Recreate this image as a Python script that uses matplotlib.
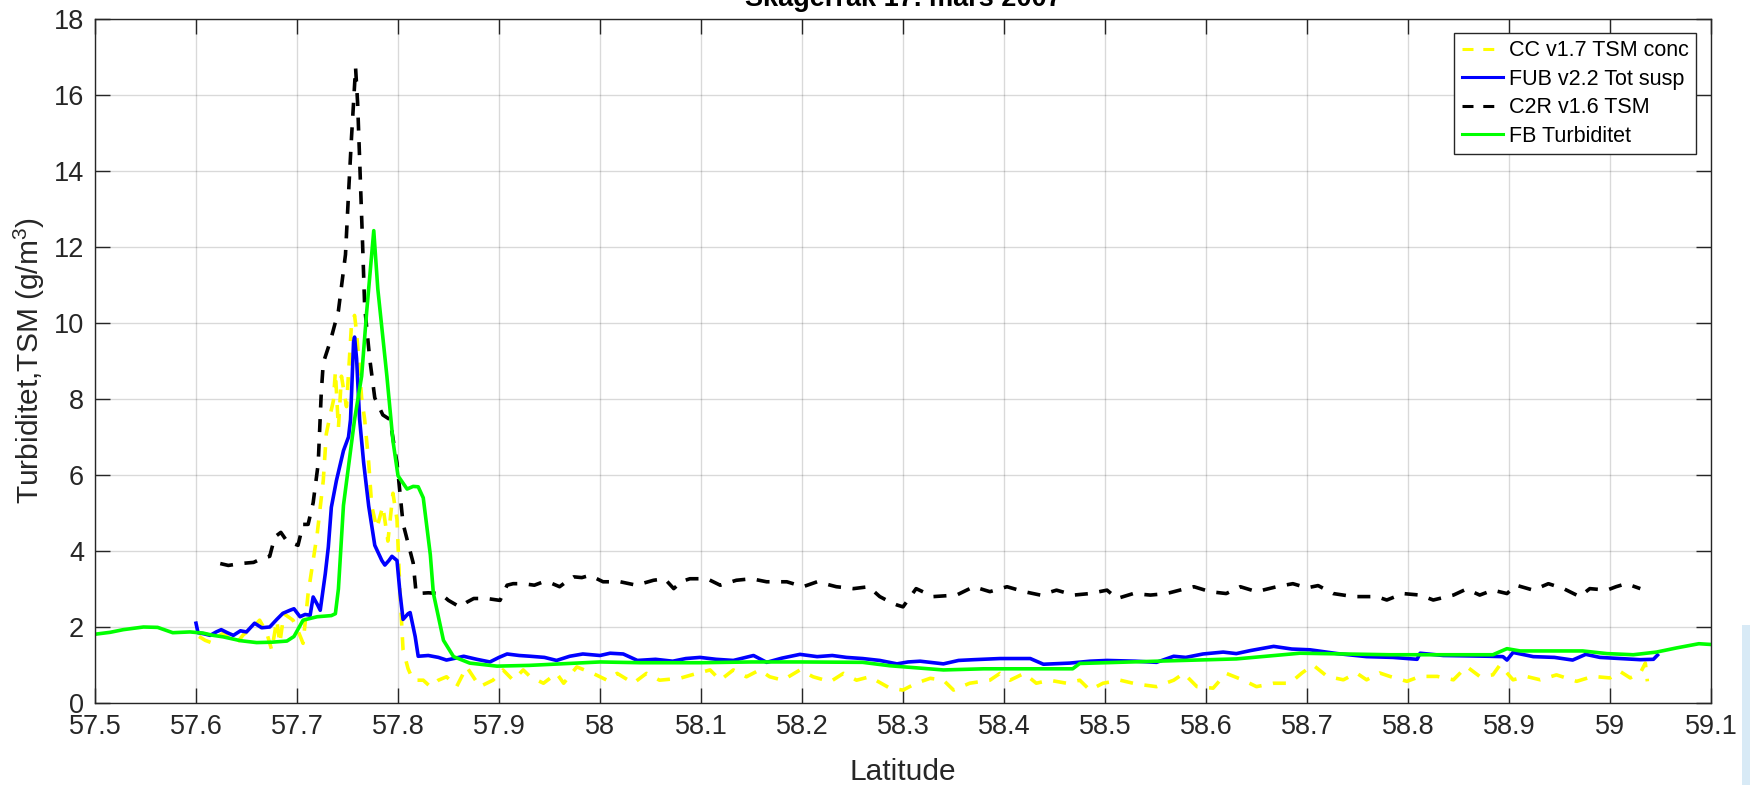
import matplotlib
matplotlib.use('Agg')
import matplotlib.pyplot as plt
from matplotlib.patches import Rectangle

plt.rcParams['font.family'] = ['Liberation Sans', 'DejaVu Sans']
plt.rcParams['mathtext.fontset'] = 'custom'
plt.rcParams['mathtext.rm'] = 'Liberation Sans'

# CC v1.7 TSM conc (yellow, dashed)
cc_lat = [57.603, 57.609, 57.617, 57.622, 57.627, 57.633, 57.640, 57.647, 57.655, 57.663,
          57.670, 57.675, 57.680, 57.683, 57.687, 57.696, 57.701, 57.706, 57.711, 57.715,
          57.720, 57.726, 57.729, 57.733, 57.736, 57.738, 57.741, 57.744, 57.749, 57.754,
          57.757, 57.759, 57.764, 57.767, 57.771, 57.774, 57.779, 57.785, 57.790, 57.795,
          57.799, 57.802, 57.805, 57.810, 57.815, 57.825, 57.832, 57.840, 57.848, 57.858,
          57.868, 57.881, 57.894, 57.904, 57.914, 57.924, 57.931, 57.944, 57.957, 57.964,
          57.977, 57.993, 58.007, 58.017, 58.033, 58.046, 58.059, 58.079, 58.096, 58.109,
          58.119, 58.132, 58.145, 58.158, 58.168, 58.181, 58.198, 58.211, 58.228, 58.241,
          58.254, 58.267, 58.287, 58.300, 58.313, 58.327, 58.340, 58.350, 58.366, 58.386,
          58.396, 58.406, 58.420, 58.432, 58.445, 58.462, 58.475, 58.485, 58.498, 58.515,
          58.531, 58.551, 58.568, 58.578, 58.591, 58.607, 58.620, 58.637, 58.650, 58.667,
          58.683, 58.695, 58.706, 58.720, 58.736, 58.749, 58.759, 58.772, 58.782, 58.799,
          58.812, 58.829, 58.845, 58.858, 58.871, 58.884, 58.891, 58.904, 58.917, 58.931,
          58.947, 58.967, 58.983, 59.000, 59.010, 59.020, 59.030, 59.035, 59.037]
cc_val = [1.75, 1.65, 1.57, 1.75, 1.84, 1.70, 1.57, 1.80, 1.95, 2.18,
          1.85, 1.39, 2.18, 1.57, 2.35, 2.18, 1.90, 1.57, 2.88, 3.58,
          4.45, 5.85, 7.08, 7.60, 7.95, 8.72, 7.23, 8.60, 7.80, 9.98,
          10.20, 9.75, 8.03, 7.46, 6.32, 5.18, 4.60, 5.18, 4.26, 5.52,
          4.83, 2.89, 1.40, 0.90, 0.60, 0.60, 0.43, 0.60, 0.69, 0.43,
          0.95, 0.43, 0.60, 0.87, 0.60, 0.87, 0.69, 0.52, 0.78, 0.52,
          0.95, 0.78, 0.60, 0.78, 0.52, 0.78, 0.60, 0.65, 0.78, 0.87,
          0.60, 0.87, 0.69, 0.87, 0.69, 0.60, 0.87, 0.69, 0.56, 0.78,
          0.60, 0.69, 0.39, 0.34, 0.52, 0.65, 0.60, 0.34, 0.52, 0.60,
          0.78, 0.60, 0.78, 0.52, 0.60, 0.52, 0.60, 0.34, 0.52, 0.60,
          0.50, 0.43, 0.60, 0.78, 0.43, 0.39, 0.78, 0.60, 0.43, 0.52,
          0.52, 0.79, 1.00, 0.70, 0.61, 0.79, 0.61, 0.79, 0.70, 0.57,
          0.70, 0.70, 0.61, 0.96, 0.70, 0.74, 1.00, 0.61, 0.70, 0.61,
          0.74, 0.57, 0.70, 0.66, 0.83, 0.66, 0.79, 1.05, 0.57]

# FUB v2.2 Tot susp (blue)
fub_lat = [57.600, 57.602, 57.608, 57.614, 57.620, 57.625, 57.631, 57.637, 57.644, 57.650,
           57.658, 57.665, 57.673, 57.680, 57.686, 57.693, 57.697, 57.703, 57.708, 57.713,
           57.716, 57.720, 57.723, 57.728, 57.731, 57.734, 57.739, 57.746, 57.751, 57.753,
           57.756, 57.757, 57.759, 57.762, 57.766, 57.771, 57.777, 57.784, 57.787, 57.791,
           57.794, 57.799, 57.802, 57.805, 57.810, 57.812, 57.817, 57.820, 57.830, 57.840,
           57.848, 57.857, 57.865, 57.878, 57.891, 57.900, 57.908, 57.920, 57.931, 57.945,
           57.957, 57.970, 57.983, 58.000, 58.010, 58.023, 58.037, 58.055, 58.072, 58.085,
           58.099, 58.115, 58.132, 58.152, 58.165, 58.180, 58.198, 58.215, 58.230, 58.244,
           58.260, 58.277, 58.294, 58.305, 58.317, 58.340, 58.355, 58.370, 58.396, 58.426,
           58.439, 58.465, 58.485, 58.502, 58.530, 58.551, 58.568, 58.580, 58.597, 58.617,
           58.630, 58.644, 58.667, 58.685, 58.703, 58.730, 58.759, 58.785, 58.809, 58.812,
           58.835, 58.858, 58.880, 58.894, 58.898, 58.904, 58.924, 58.945, 58.963, 58.976,
           58.990, 59.010, 59.030, 59.043, 59.047]
fub_val = [2.10, 1.85, 1.82, 1.78, 1.87, 1.93, 1.85, 1.78, 1.90, 1.87,
           2.10, 1.98, 2.00, 2.20, 2.36, 2.44, 2.48, 2.27, 2.33, 2.31,
           2.79, 2.60, 2.44, 3.40, 4.10, 5.15, 5.85, 6.64, 7.00, 7.46,
           9.50, 9.63, 9.06, 7.46, 6.32, 5.18, 4.15, 3.75, 3.63, 3.75,
           3.86, 3.75, 2.89, 2.20, 2.35, 2.38, 1.75, 1.23, 1.25, 1.20,
           1.13, 1.18, 1.23, 1.15, 1.08, 1.20, 1.29, 1.25, 1.23, 1.20,
           1.12, 1.23, 1.29, 1.25, 1.31, 1.29, 1.12, 1.15, 1.10, 1.17,
           1.20, 1.15, 1.12, 1.25, 1.07, 1.18, 1.28, 1.22, 1.25, 1.20,
           1.17, 1.12, 1.03, 1.08, 1.10, 1.03, 1.12, 1.14, 1.17, 1.17,
           1.02, 1.05, 1.10, 1.12, 1.10, 1.07, 1.23, 1.20, 1.29, 1.34,
           1.30, 1.38, 1.49, 1.42, 1.40, 1.30, 1.22, 1.20, 1.15, 1.31,
           1.25, 1.24, 1.23, 1.22, 1.13, 1.33, 1.22, 1.20, 1.13, 1.28,
           1.20, 1.17, 1.14, 1.15, 1.26]

# C2R v1.6 TSM (black, dashed)
c2r_lat = [57.624, 57.632, 57.644, 57.657, 57.665, 57.673, 57.678, 57.684, 57.690, 57.696,
           57.701, 57.706, 57.711, 57.716, 57.721, 57.724, 57.726, 57.733, 57.741, 57.748,
           57.751, 57.754, 57.756, 57.758, 57.760, 57.762, 57.765, 57.767, 57.772, 57.777,
           57.785, 57.792, 57.799, 57.805, 57.810, 57.815, 57.818, 57.830, 57.842, 57.850,
           57.861, 57.868, 57.875, 57.888, 57.901, 57.908, 57.914, 57.924, 57.935, 57.944,
           57.952, 57.960, 57.967, 57.974, 57.982, 57.990, 58.003, 58.020, 58.036, 58.053,
           58.064, 58.073, 58.081, 58.089, 58.106, 58.119, 58.135, 58.150, 58.165, 58.185,
           58.201, 58.215, 58.234, 58.251, 58.266, 58.277, 58.287, 58.294, 58.300, 58.313,
           58.330, 58.353, 58.370, 58.386, 58.403, 58.420, 58.436, 58.452, 58.469, 58.485,
           58.502, 58.512, 58.528, 58.545, 58.561, 58.574, 58.588, 58.604, 58.620, 58.634,
           58.650, 58.670, 58.686, 58.700, 58.711, 58.726, 58.746, 58.769, 58.779, 58.795,
           58.812, 58.825, 58.845, 58.858, 58.871, 58.884, 58.898, 58.907, 58.924, 58.939,
           58.954, 58.970, 58.980, 58.997, 59.006, 59.016, 59.030]
c2r_val = [3.67, 3.62, 3.67, 3.70, 3.80, 3.86, 4.37, 4.49, 4.26, 4.20,
           4.15, 4.70, 4.70, 5.27, 6.30, 8.15, 8.95, 9.52, 10.32, 11.80,
           13.40, 14.90, 15.80, 16.72, 15.80, 14.32, 12.03, 10.43, 9.06, 8.03,
           7.58, 7.46, 6.32, 4.72, 4.20, 3.69, 2.88, 2.90, 2.88, 2.70,
           2.53, 2.65, 2.75, 2.75, 2.70, 3.10, 3.14, 3.14, 3.10, 3.19,
           3.15, 3.06, 3.20, 3.32, 3.30, 3.36, 3.19, 3.19, 3.10, 3.23,
           3.27, 3.01, 3.20, 3.27, 3.27, 3.10, 3.23, 3.27, 3.19, 3.19,
           3.06, 3.19, 3.06, 3.01, 3.06, 2.80, 2.66, 2.58, 2.53, 3.01,
           2.80, 2.84, 3.06, 2.93, 3.06, 2.93, 2.84, 2.97, 2.84, 2.88,
           2.97, 2.75, 2.88, 2.84, 2.88, 2.97, 3.06, 2.93, 2.88, 3.06,
           2.93, 3.06, 3.14, 3.03, 3.09, 2.88, 2.80, 2.80, 2.71, 2.88,
           2.84, 2.71, 2.84, 3.00, 2.84, 2.97, 2.88, 3.10, 2.97, 3.14,
           3.01, 2.80, 3.01, 2.97, 3.06, 3.14, 3.01]

# FB Turbiditet (green)
fb_lat = [57.500, 57.515, 57.528, 57.548, 57.562, 57.577, 57.594, 57.607, 57.617, 57.627,
          57.644, 57.660, 57.675, 57.690, 57.697, 57.706, 57.720, 57.734, 57.738, 57.741,
          57.746, 57.757, 57.764, 57.769, 57.776, 57.780, 57.789, 57.795, 57.800, 57.809,
          57.815, 57.820, 57.825, 57.832, 57.835, 57.845, 57.855, 57.871, 57.898, 57.930,
          58.000, 58.040, 58.099, 58.150, 58.198, 58.260, 58.287, 58.340, 58.380, 58.468,
          58.475, 58.551, 58.630, 58.693, 58.782, 58.884, 58.898, 58.911, 58.973, 58.997,
          59.023, 59.046, 59.066, 59.088, 59.100]
fb_val = [1.81, 1.86, 1.93, 2.00, 1.99, 1.85, 1.87, 1.84, 1.78, 1.74,
          1.64, 1.59, 1.60, 1.63, 1.75, 2.18, 2.27, 2.30, 2.35, 3.00,
          5.20, 7.46, 8.60, 10.30, 12.43, 10.90, 8.60, 6.90, 5.98, 5.63,
          5.70, 5.69, 5.40, 3.90, 2.89, 1.65, 1.22, 1.05, 0.97, 0.99,
          1.08, 1.06, 1.06, 1.08, 1.08, 1.07, 0.98, 0.87, 0.90, 0.90,
          1.04, 1.10, 1.16, 1.31, 1.27, 1.27, 1.43, 1.37, 1.37, 1.30,
          1.27, 1.34, 1.45, 1.56, 1.54]

xticks = [57.5, 57.6, 57.7, 57.8, 57.9, 58.0, 58.1, 58.2, 58.3, 58.4, 58.5,
          58.6, 58.7, 58.8, 58.9, 59.0, 59.1]
yticks = [0, 2, 4, 6, 8, 10, 12, 14, 16, 18]

fig = plt.figure(figsize=(17.5, 7.85), dpi=100)
ax = fig.add_axes([95 / 1750, 82 / 785, 1616 / 1750, 684 / 785])

ax.plot(cc_lat, cc_val, color=(1, 1, 0), lw=2.6, dashes=(3.6, 3.2), label='CC v1.7 TSM conc')
ax.plot(fub_lat, fub_val, color=(0, 0, 1), lw=2.6, label='FUB v2.2 Tot susp')
ax.plot(c2r_lat, c2r_val, color='black', lw=2.6, dashes=(3.6, 3.2), label='C2R v1.6 TSM')
ax.plot(fb_lat, fb_val, color=(0, 1, 0), lw=2.6, label='FB Turbiditet')

ax.set_xlim(57.5, 59.1)
ax.set_ylim(0, 18)
ax.set_xticks(xticks)
ax.set_xticklabels([f'{v:g}' for v in xticks])
ax.set_yticks(yticks)
ax.set_yticklabels([str(v) for v in yticks])

dark = (0.15, 0.15, 0.15)
ax.grid(True, color='black', alpha=0.15, lw=1)
ax.tick_params(direction='in', length=11, width=1, colors=dark, labelsize=19.5,
               top=True, right=True)
ax.tick_params(axis='x', pad=8)
ax.tick_params(axis='y', pad=8)
for s in ax.spines.values():
    s.set_color(dark)
    s.set_linewidth(1)

ax.set_xlabel('Latitude', fontsize=21.5, color=dark, va='center')
ax.xaxis.set_label_coords(0.5, -0.101)
ax.set_ylabel('Turbiditet,TSM (g/m$^3$)', fontsize=21.5, color=dark, va='center')
ax.yaxis.set_label_coords(-0.0408, 0.5)

fig.text(903 / 1750, 1 - 6 / 785, 'Skagerrak 17. mars 2007', fontsize=19.5,
         fontweight='bold', ha='center', va='baseline', color='black')

leg = ax.legend(loc='upper right', bbox_to_anchor=(0.991, 0.98), borderaxespad=0,
                fontsize=15.5, handlelength=1.9, handletextpad=0.3, labelspacing=0.35,
                borderpad=0.35, fancybox=False, framealpha=1)
leg.get_frame().set_edgecolor(dark)
leg.get_frame().set_linewidth(1)
for line in leg.get_lines():
    line.set_linewidth(2.2)

# light blue strip at the right edge of the screenshot
fig.patches.append(Rectangle((1742 / 1750, 0), 8 / 1750, 160 / 785,
                             transform=fig.transFigure, color='#d8eaf6', lw=0))

fig.savefig('out.png', dpi=100)
